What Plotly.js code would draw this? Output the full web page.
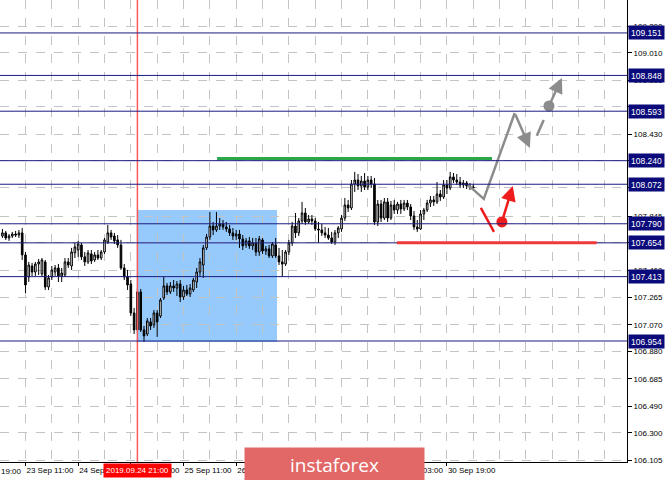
<!DOCTYPE html>
<html><head><meta charset="utf-8">
<script src="https://cdn.plot.ly/plotly-3.0.1.min.js"></script>
<style>html,body{margin:0;padding:0;background:#fff}#chart{width:665px;height:480px}</style>
</head><body><div id="chart"></div>
<script>
// H1 candles, bar index 0 = 23 Sep 11:00
const firstBar = -7;
const open = [107.703,107.725,107.689,107.703,107.717,107.710,107.725,107.568,107.411,107.489,107.446,107.503,107.432,107.518,107.339,107.411,107.446,107.475,107.418,107.425,107.518,107.489,107.582,107.603,107.639,107.554,107.518,107.575,107.532,107.568,107.546,107.589,107.660,107.725,107.703,107.675,107.639,107.475,107.411,107.361,107.154,107.033,107.304,107.033,107.004,107.090,107.068,107.154,107.132,107.261,107.347,107.304,107.347,107.332,107.361,107.268,107.318,107.289,107.318,107.375,107.446,107.496,107.618,107.696,107.774,107.746,107.774,107.789,107.767,107.753,107.725,107.703,107.717,107.682,107.639,107.668,107.632,107.653,107.589,107.675,107.596,107.611,107.561,107.639,107.561,107.518,107.503,107.589,107.653,107.774,107.725,107.810,107.867,107.803,107.824,107.810,107.753,107.746,107.725,107.710,107.689,107.660,107.725,107.753,107.831,107.924,107.903,108.074,108.102,108.060,108.095,108.053,108.102,108.074,107.803,107.931,107.831,107.946,107.831,107.924,107.888,107.931,107.896,107.938,107.910,107.846,107.767,107.753,107.860,107.888,107.938,107.960,107.946,108.002,107.981,108.067,108.045,108.124,108.102,108.088,108.067,108.081,108.060,108.053];
const high = [107.753,107.739,107.717,107.732,107.739,107.746,107.760,107.589,107.518,107.511,107.518,107.539,107.546,107.532,107.425,107.489,107.496,107.503,107.475,107.546,107.546,107.618,107.653,107.668,107.653,107.589,107.603,107.603,107.589,107.603,107.603,107.689,107.782,107.746,107.725,107.710,107.675,107.503,107.461,107.389,107.190,107.332,107.325,107.061,107.118,107.118,107.175,107.175,107.261,107.411,107.368,107.375,107.389,107.382,107.389,107.347,107.354,107.361,107.404,107.475,107.546,107.639,107.717,107.874,107.803,107.874,107.831,107.817,107.803,107.782,107.760,107.746,107.746,107.710,107.689,107.696,107.689,107.689,107.703,107.689,107.632,107.639,107.660,107.689,107.618,107.603,107.603,107.675,107.803,107.867,107.831,107.946,107.903,107.853,107.853,107.831,107.803,107.789,107.767,107.760,107.732,107.746,107.774,107.853,107.974,107.960,108.102,108.160,108.145,108.131,108.152,108.131,108.131,108.117,107.960,107.960,107.974,107.974,107.953,107.960,107.946,107.960,107.960,107.960,107.931,107.881,107.817,107.888,107.903,107.960,107.988,107.988,108.088,108.031,108.102,108.102,108.160,108.152,108.145,108.124,108.102,108.095,108.081,108.074];
const low = [107.689,107.675,107.668,107.689,107.696,107.689,107.532,107.296,107.375,107.418,107.418,107.425,107.411,107.318,107.318,107.389,107.418,107.375,107.375,107.411,107.475,107.461,107.546,107.554,107.532,107.489,107.503,107.503,107.518,107.532,107.532,107.575,107.646,107.675,107.646,107.618,107.461,107.389,107.318,107.132,107.004,107.004,107.018,106.947,106.990,107.033,107.047,106.983,107.118,107.247,107.282,107.289,107.304,107.275,107.232,107.247,107.275,107.268,107.304,107.332,107.418,107.404,107.603,107.675,107.710,107.732,107.746,107.746,107.732,107.703,107.675,107.675,107.618,107.603,107.618,107.611,107.603,107.561,107.561,107.575,107.568,107.546,107.546,107.546,107.496,107.411,107.489,107.568,107.632,107.689,107.703,107.789,107.782,107.789,107.782,107.739,107.653,107.703,107.689,107.675,107.646,107.639,107.689,107.732,107.810,107.874,107.888,108.017,108.031,108.017,108.031,108.031,108.045,107.782,107.774,107.803,107.817,107.803,107.817,107.860,107.860,107.860,107.881,107.888,107.817,107.746,107.732,107.746,107.817,107.874,107.910,107.917,107.931,107.953,107.967,108.002,108.031,108.081,108.067,108.045,108.045,108.038,108.031,108.031];
const close = [107.725,107.689,107.703,107.717,107.710,107.725,107.568,107.354,107.496,107.446,107.503,107.518,107.532,107.339,107.404,107.461,107.475,107.418,107.439,107.518,107.496,107.589,107.625,107.646,107.554,107.518,107.582,107.525,107.568,107.546,107.589,107.675,107.725,107.696,107.668,107.639,107.475,107.411,107.354,107.154,107.033,107.304,107.033,106.990,107.097,107.061,107.154,107.090,107.247,107.347,107.304,107.347,107.332,107.361,107.268,107.318,107.289,107.332,107.389,107.446,107.518,107.618,107.696,107.774,107.746,107.774,107.789,107.767,107.753,107.725,107.703,107.717,107.682,107.632,107.668,107.632,107.653,107.589,107.682,107.596,107.611,107.561,107.646,107.561,107.518,107.503,107.589,107.653,107.774,107.725,107.810,107.867,107.803,107.824,107.810,107.753,107.746,107.725,107.710,107.689,107.660,107.725,107.760,107.831,107.924,107.903,108.074,108.102,108.060,108.095,108.053,108.102,108.074,107.803,107.931,107.831,107.946,107.831,107.924,107.888,107.931,107.896,107.938,107.910,107.846,107.767,107.753,107.860,107.888,107.938,107.960,107.946,108.002,107.981,108.067,108.045,108.124,108.102,108.088,108.067,108.081,108.060,108.053,108.045];

// time axis labels (bar index -> label)
const timeTickBars = [0, 16, 32, 48, 64, 80, 96, 112, 128];
const timeTickText = ['23 Sep 11:00','24 Sep 03:00','24 Sep 19:00','25 Sep 11:00','26 Sep 03:00','26 Sep 19:00','27 Sep 11:00','30 Sep 03:00','30 Sep 19:00'];
const priceTicks = [109.200,109.010,108.815,108.625,108.430,108.240,108.050,107.845,107.655,107.460,107.265,107.070,106.880,106.685,106.490,106.300,106.105];

// horizontal levels
const levels = [109.151,108.848,108.593,108.240,108.072,107.790,107.654,107.413,106.954];

// zones and trend lines
const zoneBars = [33.8, 76.4]; const zonePrices = [106.947, 107.889];
const greenBars = [58.2, 141.7]; const greenPrice = 108.255;
const redBars = [112.8, 173.5]; const redPrice = 107.654;
const markerBar = 34; const markerLabel = '2019.09.24 21:00';

// forecast scenario paths
const grayPathX = [134.4, 139.2, 148.6]; const grayPathY = [108.067, 107.967, 108.580];
const grayArrow1 = {x0:148.6, y0:108.580, x1:153.2, y1:108.331};
const graySegX = [155.3, 157.4]; const graySegY = [108.417, 108.531];
const grayDot = {x:159.0, y:108.630}; const grayArrow2 = {x1:162.9, y1:108.830};
const redSegX = [138.3, 142.3]; const redSegY = [107.903, 107.732];
const redDot = {x:144.7, y:107.803}; const redArrow = {x1:148.0, y1:108.060};

const xs = open.map((_, k) => firstBar + k);
const FONT = 'Liberation Sans';
const GRAY = '#8c8c8c', RED = '#ee1c1c', NAVY = '#1a1a80';

const traces = [
  {type:'candlestick', x:xs, open:open, high:high, low:low, close:close,
   increasing:{line:{color:'#000', width:1}, fillcolor:'#ffffff'},
   decreasing:{line:{color:'#000', width:1}, fillcolor:'#000000'},
   whiskerwidth:0, hoverinfo:'skip'},
  {type:'scatter', mode:'lines', x:grayPathX, y:grayPathY, line:{color:GRAY, width:2.5}, hoverinfo:'skip'},
  {type:'scatter', mode:'lines', x:graySegX, y:graySegY, line:{color:GRAY, width:2.5}, hoverinfo:'skip'},
  {type:'scatter', mode:'markers', x:[grayDot.x], y:[grayDot.y], marker:{color:GRAY, size:11}, hoverinfo:'skip'},
  {type:'scatter', mode:'lines', x:redSegX, y:redSegY, line:{color:RED, width:2.5}, hoverinfo:'skip'},
  {type:'scatter', mode:'markers', x:[redDot.x], y:[redDot.y], marker:{color:RED, size:11}, hoverinfo:'skip'}
];

const shapes = [
  {type:'rect', xref:'x', yref:'y', x0:zoneBars[0], x1:zoneBars[1], y0:zonePrices[0], y1:zonePrices[1],
   fillcolor:'rgba(140,196,252,0.9)', line:{width:0}, layer:'below'},
  {type:'line', xref:'x', yref:'paper', x0:markerBar, x1:markerBar, y0:0, y1:1, line:{color:'#ff5a5a', width:1.5}}
];
levels.forEach(v => shapes.push({type:'line', xref:'paper', yref:'y', x0:0, x1:1, y0:v, y1:v, line:{color:NAVY, width:1}}));
shapes.push({type:'line', xref:'x', yref:'y', x0:greenBars[0], x1:greenBars[1], y0:greenPrice, y1:greenPrice, line:{color:'#2aa84a', width:3}});
shapes.push({type:'line', xref:'x', yref:'y', x0:redBars[0], x1:redBars[1], y0:redPrice, y1:redPrice, line:{color:'#f03a3a', width:3}});

const annotations = [];
levels.forEach(v => annotations.push({xref:'paper', yref:'y', x:1, y:v, xanchor:'left', yanchor:'middle', xshift:1,
  text:v.toFixed(3), showarrow:false, bgcolor:'#0a0a7a', borderpad:1, width:33, height:11,
  font:{family:FONT, size:8.5, color:'#ffffff'}}));
annotations.push({xref:'x', yref:'y', axref:'x', ayref:'y', x:grayArrow1.x1, y:grayArrow1.y1, ax:grayArrow1.x0, ay:grayArrow1.y0,
  showarrow:true, arrowhead:2, arrowsize:1.2, arrowwidth:2.5, arrowcolor:GRAY, text:''});
annotations.push({xref:'x', yref:'y', axref:'x', ayref:'y', x:grayArrow2.x1, y:grayArrow2.y1, ax:grayDot.x, ay:grayDot.y,
  showarrow:true, arrowhead:2, arrowsize:1.2, arrowwidth:2.5, arrowcolor:GRAY, text:''});
annotations.push({xref:'x', yref:'y', axref:'x', ayref:'y', x:redArrow.x1, y:redArrow.y1, ax:redDot.x, ay:redDot.y,
  showarrow:true, arrowhead:2, arrowsize:1.2, arrowwidth:2.5, arrowcolor:RED, text:''});
annotations.push({xref:'paper', yref:'paper', x:0, y:0, xanchor:'left', yanchor:'top', yshift:-3, xshift:-1, text:'19:00',
  showarrow:false, font:{family:FONT, size:8, color:'#000'}});
annotations.push({xref:'x', yref:'paper', x:markerBar, y:0, xanchor:'center', yanchor:'top', yshift:-1, text:markerLabel,
  showarrow:false, bgcolor:'#ff0000', borderpad:2, font:{family:FONT, size:8, color:'#ffffff'}});
annotations.push({xref:'paper', yref:'paper', x:0.5335, y:-0.006, xanchor:'center', yanchor:'middle', text:'instaforex',
  showarrow:false, bgcolor:'#e26868', width:177, height:31, font:{family:'Open Sans', size:19, color:'#ffffff'}});

const layout = {
  width:665, height:480, margin:{l:0, r:38, t:0, b:18},
  paper_bgcolor:'#ffffff', plot_bgcolor:'#ffffff', showlegend:false,
  xaxis:{range:[-7.74, 182.7], tickmode:'array', tickvals:timeTickBars, ticktext:timeTickText, tickangle:0,
    ticklabelposition:'outside right', ticks:'outside', ticklen:3, tickcolor:'#000',
    showgrid:true, gridcolor:'#c4c4c4', griddash:'dash', gridwidth:1,
    minor:{tickmode:'linear', tick0:0, dtick:8, showgrid:true, gridcolor:'#c4c4c4', griddash:'dash', ticks:''},
    showline:true, linecolor:'#000', linewidth:1, zeroline:false, rangeslider:{visible:false},
    tickfont:{family:FONT, size:8, color:'#000'}, fixedrange:true, automargin:false},
  yaxis:{side:'right', range:[106.091, 109.386], tickmode:'array', tickvals:priceTicks, tickformat:'.3f',
    ticks:'outside', ticklen:4, tickcolor:'#000', showgrid:true, gridcolor:'#c4c4c4', griddash:'dash',
    showline:true, linecolor:'#000', linewidth:1, zeroline:false,
    tickfont:{family:FONT, size:8, color:'#000'}, fixedrange:true, automargin:false},
  shapes:shapes, annotations:annotations
};
Plotly.newPlot('chart', traces, layout, {staticPlot:true, displayModeBar:false});
</script></body></html>
